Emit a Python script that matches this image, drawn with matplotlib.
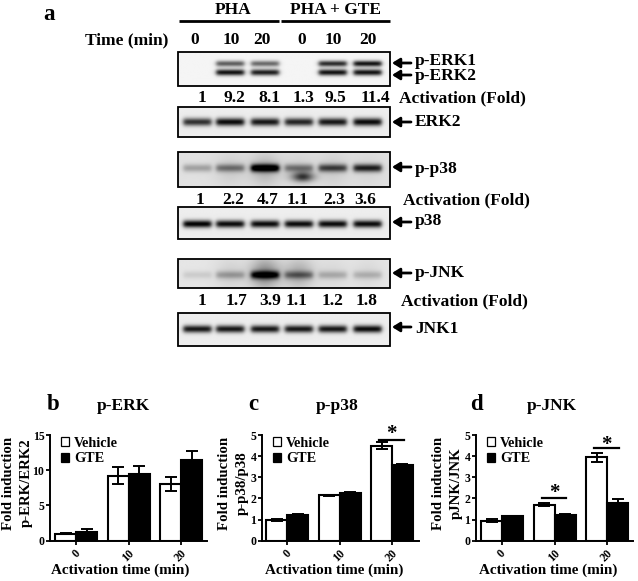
import numpy as np
import matplotlib
matplotlib.use('Agg')
import matplotlib.pyplot as plt
from matplotlib.patches import Patch, Rectangle

plt.rcParams['font.family'] = ['Liberation Serif', 'DejaVu Serif']
plt.rcParams['font.weight'] = 'bold'

W, H = 638, 581

# bar chart values
times = ['0', '10', '20']
erk_vehicle = [1.0, 9.2, 8.1]
erk_gte = [1.3, 9.5, 11.4]
erk_vehicle_err = [0.1, 1.2, 1.0]
erk_gte_err = [0.35, 1.05, 1.3]
p38_vehicle = [1.0, 2.15, 4.5]
p38_gte = [1.2, 2.27, 3.6]
p38_vehicle_err = [0.05, 0.03, 0.18]
p38_gte_err = [0.05, 0.03, 0.03]
jnk_vehicle = [0.95, 1.7, 3.95]
jnk_gte = [1.15, 1.22, 1.8]
jnk_vehicle_err = [0.06, 0.07, 0.22]
jnk_gte_err = [0.04, 0.04, 0.17]

# fold numbers printed under the blots
fold_erk = ['1', '9.2', '8.1', '1.3', '9.5', '11.4']
fold_p38 = ['1', '2.2', '4.7', '1.1', '2.3', '3.6']
fold_jnk = ['1', '1.7', '3.9', '1.1', '1.2', '1.8']
time_labels = ['0', '10', '20', '0', '10', '20']

# band darkness per lane
band_perk1 = [0.0, 0.6, 0.55, 0.0, 0.8, 0.9]
band_perk2 = [0.0, 0.9, 0.85, 0.0, 0.9, 0.9]
band_erk2 = [0.75, 0.9, 0.85, 0.8, 0.85, 0.9]
band_pp38 = [0.25, 0.4, 1.0, 0.4, 0.6, 0.75]
band_p38 = [0.95, 0.9, 0.9, 0.9, 0.9, 0.9]
band_pjnk = [0.1, 0.25, 0.8, 0.4, 0.2, 0.18]
band_jnk1 = [0.85, 0.85, 0.85, 0.85, 0.85, 0.9]

lanes_px = [197, 230, 265, 299, 333, 368]


def px_axes(fig, left, top, right, bottom):
    return fig.add_axes([left / W, 1 - bottom / H, (right - left) / W, (bottom - top) / H])


def draw_blot(ax, top, bottom, rows, bg=0.95, haze=None, smudge=None):
    left, right = 178, 390
    xx, yy = np.meshgrid(np.arange(left, right + 1), np.arange(top, bottom + 1))
    dark = np.zeros(xx.shape, dtype=float)
    for band_y, sigma, values in rows:
        for cx, v in zip(lanes_px, values):
            across = 0.5 * (np.tanh((xx - cx + 14) / 2.5) - np.tanh((xx - cx - 14) / 2.5))
            dark += v * across * np.exp(-((yy - band_y) / sigma) ** 2)
    if haze is not None:
        for cx, v in zip(lanes_px, haze):
            dark += v * np.exp(-((xx - cx) / 15.0) ** 2 - ((yy - (top + bottom) / 2) / 16.0) ** 2)
    if smudge is not None:
        sx, sy, sv = smudge
        dark += sv * np.exp(-((xx - sx) / 11.0) ** 2 - ((yy - sy) / 5.0) ** 2)
    shade = np.clip(bg - dark, 0, 1)
    ax.imshow(shade, cmap='gray', vmin=0, vmax=1, aspect='auto', interpolation='bilinear',
              extent=(left, right, bottom, top), zorder=1)
    ax.add_patch(Rectangle((left, top), right - left, bottom - top, fill=False,
                           edgecolor='black', linewidth=1.3, zorder=2))


def label(ax, x, y, text, size=12.5, **kw):
    kw.setdefault('ha', 'center')
    ax.text(x, y + 1, text, fontsize=size, va='center', **kw)


def arrow_label(ax, arrow_y, text, text_y):
    ax.annotate('', xy=(392, arrow_y), xytext=(411, arrow_y),
                arrowprops=dict(arrowstyle='-|>,head_width=0.28,head_length=0.45', color='black',
                                lw=2, shrinkA=0, shrinkB=0))
    label(ax, 415, text_y, text, ha='left')


def bar_panel(fig, left, right, ylim, yticks, vehicle, gte, vehicle_err, gte_err, first_center):
    ax = px_axes(fig, left, 435, right, 540.7)
    bar_w = 21.0
    x0 = np.arange(3) * 2.5
    ax.bar(x0 - 0.5, vehicle, width=1, color='white', edgecolor='black', linewidth=1.5, zorder=2)
    ax.bar(x0 + 0.5, gte, width=1, color='black', edgecolor='black', linewidth=1.5, zorder=2)
    ax.errorbar(x0 - 0.5, vehicle, yerr=vehicle_err, fmt='none', ecolor='black', elinewidth=1.4,
                capsize=4, capthick=1.4, zorder=3)
    ax.errorbar(x0 + 0.5, gte, yerr=gte_err, fmt='none', ecolor='black', elinewidth=1.4,
                capsize=4, capthick=1.4, zorder=3)
    ax.set_xlim((left - first_center) / bar_w, (right - first_center) / bar_w)
    ax.set_ylim(0, ylim)
    ax.set_yticks(yticks)
    ax.set_xticks(x0)
    ax.set_xticklabels(times, rotation=45, fontsize=8.5)
    ax.tick_params(axis='y', labelsize=8.5, width=1.3, length=3, pad=1)
    ax.tick_params(axis='x', width=1.3, length=3, pad=2)
    ax.spines['top'].set_visible(False)
    ax.spines['right'].set_visible(False)
    ax.spines['left'].set_linewidth(1.4)
    ax.spines['bottom'].set_linewidth(1.4)
    ax.patch.set_alpha(0)
    handles = [Patch(facecolor='white', edgecolor='black', linewidth=0.9, label='Vehicle'),
               Patch(facecolor='black', edgecolor='black', linewidth=0.9, label='GTE')]
    ax.legend(handles=handles, loc='upper left', bbox_to_anchor=(11 / (right - left), 0.985),
              frameon=False, fontsize=10.3, handlelength=0.55, handleheight=0.55,
              handletextpad=0.35, borderaxespad=0, borderpad=0, labelspacing=0.2)
    return ax


def sig_mark(ax, x1, x2, y, star_y):
    ax.plot([x1, x2], [y, y], color='black', lw=1.6, clip_on=False, zorder=4)
    ax.text((x1 + x2) / 2, star_y, '*', fontsize=15, ha='center', va='center', clip_on=False)


fig = plt.figure(figsize=(W / 100, H / 100), dpi=100)

page = fig.add_axes([0, 0, 1, 1])

draw_blot(page, 52, 86, [(63.5, 3.0, band_perk1), (72.5, 3.2, band_perk2)], bg=0.96)
draw_blot(page, 107, 137, [(122, 4.0, band_erk2)], bg=0.93)
draw_blot(page, 152, 187, [(168, 4.0, band_pp38)], bg=0.88,
          haze=[0.0, 0.08, 0.18, 0.06, 0.08, 0.04], smudge=(303, 177, 0.65))
draw_blot(page, 207, 239, [(224, 3.8, band_p38)], bg=0.93)
draw_blot(page, 259, 288, [(275, 4.0, band_pjnk)], bg=0.9,
          haze=[0.0, 0.08, 0.35, 0.22, 0.05, 0.05])
draw_blot(page, 313, 346, [(329, 3.8, band_jnk1)], bg=0.93)

page.set_xlim(0, W)
page.set_ylim(H, 0)
page.axis('off')

label(page, 49, 14, 'a', size=16.5)
label(page, 233, 9, 'PHA')
label(page, 336, 9, 'PHA + GTE')
page.plot([179, 279], [21, 21], color='black', lw=2, solid_capstyle='butt')
page.plot([281, 390], [21, 21], color='black', lw=2, solid_capstyle='butt')
label(page, 127, 39, 'Time (min)')

for x, t in zip([195, 231, 262, 302, 333, 368], time_labels):
    label(page, x, 39, t)

for y, left, xs, labels in [(97, 399, [202, 234, 269, 304, 335, 375], fold_erk),
                            (199, 403, [200, 233, 268, 298, 334, 365], fold_p38),
                            (300, 401, [202, 236, 270, 297, 333, 367], fold_jnk)]:
    for x, t in zip(xs, labels):
        label(page, x, y, t)
    label(page, left, y, 'Activation (Fold)', ha='left')

arrow_label(page, 63, 'p-ERK1', 60)
arrow_label(page, 75, 'p-ERK2', 75)
arrow_label(page, 122, 'ERK2', 121)
arrow_label(page, 167, 'p-p38', 168)
arrow_label(page, 222, 'p38', 220)
arrow_label(page, 273, 'p-JNK', 272)
arrow_label(page, 327, 'JNK1', 328)

# panel headings and axis titles for b, c, d
for letter, lx, title, tx, y2_text, y1x, y2x, xlab_x in [
        ('b', 53, 'p-ERK', 123, 'p-ERK/ERK2', 9, 26, 120),
        ('c', 253, 'p-p38', 337, 'p-p38/p38', 224, 242, 334),
        ('d', 476, 'p-JNK', 552, 'pJNK/JNK', 438, 456, 548)]:
    label(page, lx, 403, letter, size=16.5)
    label(page, tx, 405, title, size=12.5)
    page.text(y1x, 483, 'Fold induction', fontsize=10.7, rotation=90, ha='center', va='center')
    page.text(y2x, 483, y2_text, fontsize=10.7, rotation=90, ha='center', va='center')
    label(page, xlab_x, 569, 'Activation time (min)', size=10.9)

ax_b = bar_panel(fig, 50, 207, 15, [0, 5, 10, 15], erk_vehicle, erk_gte, erk_vehicle_err, erk_gte_err, 76)
ax_c = bar_panel(fig, 262, 419, 5, [0, 1, 2, 3, 4, 5], p38_vehicle, p38_gte, p38_vehicle_err, p38_gte_err, 287)
ax_d = bar_panel(fig, 476, 633, 5, [0, 1, 2, 3, 4, 5], jnk_vehicle, jnk_gte, jnk_vehicle_err, jnk_gte_err, 502)

sig_mark(ax_c, 4.4, 5.55, 4.77, 5.05)
sig_mark(ax_d, 4.4, 5.55, 4.39, 4.55)
sig_mark(ax_d, 1.9, 3.05, 2.02, 2.25)

fig.savefig('out.png', dpi=100)
